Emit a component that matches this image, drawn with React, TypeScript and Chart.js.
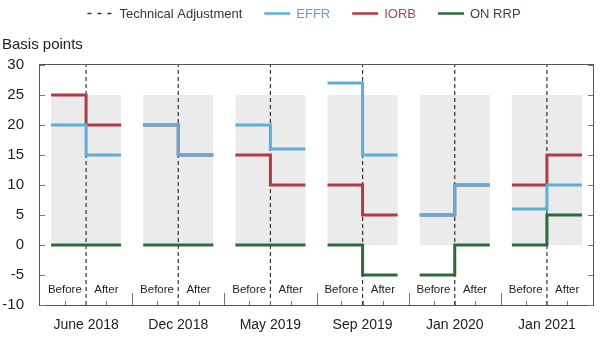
import React, { useEffect, useRef } from "react";
import { Chart, registerables } from "chart.js";

Chart.register(...registerables);

// ---------- data ----------
const categories = ["June 2018", "Dec 2018", "May 2019", "Sep 2019", "Jan 2020", "Jan 2021"];
const phaseLabels = ["Before", "After"];
const effrBefore = [20, 20, 20, 27, 5, 6];
const effrAfter = [15, 15, 16, 15, 10, 10];
const iorbBefore = [25, 20, 15, 10, 5, 10];
const iorbAfter = [20, 15, 10, 5, 10, 15];
const onrrpBefore = [0, 0, 0, 0, -5, 0];
const onrrpAfter = [0, 0, 0, -5, 0, 5];
const shadeRange = [0, 25];
const yTicks = [-10, -5, 0, 5, 10, 15, 20, 25, 30];
const legendLabels = ["Technical Adjustment", "EFFR", "IORB", "ON RRP"];

// ---------- style ----------
const HALF = 0.38;
const PHASE_POS = [0.27, 0.72];
const FONT = "'Liberation Sans', Arial, Helvetica, sans-serif";
const C = {
  effr: "#5eaedb",
  iorb: "#b23a47",
  onrrp: "#2e6a3e",
  adj: "#333333",
  shade: "#ebebeb",
  axis: "#555555",
  tick: "#777777",
  text: "#222222",
};
const legendLine = [C.adj, C.effr, C.iorb, C.onrrp];
const legendText = ["#333333", "#6a9fbd", "#a3485a", "#34473a"];
const legendDash = [[4, 6], [], [], []];

function stepSeries(before: number[], after: number[]) {
  const pts: { x: number; y: number | null }[] = [];
  before.forEach((b, i) => {
    const c = i + 0.5;
    pts.push(
      { x: c - HALF, y: b },
      { x: c, y: b },
      { x: c, y: after[i] },
      { x: c + HALF, y: after[i] },
      { x: i + 1, y: null }
    );
  });
  return pts;
}

function adjSeries() {
  const pts: { x: number; y: number | null }[] = [];
  categories.forEach((_, i) => {
    pts.push(
      { x: i + 0.5, y: yTicks[0] },
      { x: i + 0.5, y: yTicks[yTicks.length - 1] },
      { x: i + 1, y: null }
    );
  });
  return pts;
}

const decorations = {
  id: "decorations",
  afterDraw(chart: any) {
    const { ctx, chartArea, scales } = chart;
    const { left, right, top, bottom } = chartArea;
    const x = scales.x;
    const y = scales.y;
    ctx.save();
    // frame
    ctx.strokeStyle = C.axis;
    ctx.lineWidth = 1;
    ctx.strokeRect(left - 0.5, top - 0.5, right - left + 1, bottom - top + 1);
    // y tick marks (inside, both sides)
    ctx.strokeStyle = C.tick;
    ctx.beginPath();
    yTicks.forEach((v) => {
      const py = Math.round(y.getPixelForValue(v)) + 0.5;
      ctx.moveTo(left, py);
      ctx.lineTo(left + 5, py);
      ctx.moveTo(right - 5, py);
      ctx.lineTo(right, py);
    });
    // x tick marks
    categories.forEach((_, i) => {
      [PHASE_POS[0], 0.5, PHASE_POS[1]].forEach((p) => {
        const px = Math.round(x.getPixelForValue(i + p)) + 0.5;
        ctx.moveTo(px, bottom);
        ctx.lineTo(px, bottom - 4);
      });
      if (i > 0) {
        const px = Math.round(x.getPixelForValue(i)) + 0.5;
        ctx.moveTo(px, bottom);
        ctx.lineTo(px, bottom - 12);
      }
    });
    ctx.stroke();
    // Before / After labels
    ctx.fillStyle = C.text;
    ctx.font = `11.5px ${FONT}`;
    ctx.textAlign = "center";
    ctx.textBaseline = "middle";
    categories.forEach((_, i) => {
      phaseLabels.forEach((lbl, k) => {
        ctx.fillText(lbl, x.getPixelForValue(i + PHASE_POS[k]), bottom - 15);
      });
    });
    // legend
    const fs = 13;
    ctx.font = `${fs}px ${FONT}`;
    ctx.textAlign = "left";
    const boxW = 26;
    const gap = 6;
    const spacing = 22;
    const widths = legendLabels.map((t) => boxW + gap + ctx.measureText(t).width);
    const total = widths.reduce((a, b) => a + b, 0) + spacing * (widths.length - 1);
    let cx = 304 - total / 2;
    const ly = 13;
    legendLabels.forEach((t, k) => {
      ctx.save();
      ctx.strokeStyle = legendLine[k];
      ctx.lineWidth = k === 0 ? 1.5 : 2.5;
      ctx.setLineDash(legendDash[k]);
      ctx.beginPath();
      ctx.moveTo(cx, ly + 0.5);
      ctx.lineTo(cx + boxW, ly + 0.5);
      ctx.stroke();
      ctx.restore();
      ctx.fillStyle = legendText[k];
      ctx.fillText(t, cx + boxW + gap, ly + 1);
      cx += widths[k] + spacing;
    });
    ctx.restore();
  },
};

export default function App() {
  const ref = useRef<HTMLCanvasElement>(null);
  useEffect(() => {
    Chart.defaults.font.family = FONT;
    const lineCommon = {
      type: "line" as const,
      pointRadius: 0,
      borderWidth: 3,
      fill: false,
      spanGaps: false,
      tension: 0,
      borderJoinStyle: "miter" as const,
      borderCapStyle: "butt" as const,
    };
    const chart = new Chart(ref.current as HTMLCanvasElement, {
      type: "line",
      data: {
        datasets: [
          {
            ...lineCommon,
            label: legendLabels[1],
            data: stepSeries(effrBefore, effrAfter),
            borderColor: C.effr,
            order: 1,
          },
          {
            ...lineCommon,
            label: legendLabels[2],
            data: stepSeries(iorbBefore, iorbAfter),
            borderColor: C.iorb,
            order: 2,
          },
          {
            ...lineCommon,
            label: legendLabels[3],
            data: stepSeries(onrrpBefore, onrrpAfter),
            borderColor: C.onrrp,
            order: 3,
          },
          {
            ...lineCommon,
            label: legendLabels[0],
            data: adjSeries(),
            borderColor: C.adj,
            borderWidth: 1.2,
            borderDash: [4, 3],
            order: 4,
          },
          {
            type: "bar" as const,
            label: "shade",
            data: categories.map((_, i) => ({ x: i + 0.5, y: shadeRange })) as any,
            backgroundColor: C.shade,
            borderWidth: 0,
            categoryPercentage: 1,
            barPercentage: 2 * HALF,
            order: 10,
          } as any,
        ],
      },
      options: {
        animation: false,
        responsive: false,
        events: [],
        layout: { padding: { left: 2, right: 7, top: 0, bottom: 0 } },
        plugins: {
          legend: { display: false },
          tooltip: { enabled: false },
          title: {
            display: true,
            text: "Basis points",
            align: "start",
            color: C.text,
            font: { family: FONT, size: 15, weight: "normal" },
            padding: { top: 36, bottom: 11 },
          },
        },
        scales: {
          x: {
            type: "linear",
            min: 0,
            max: categories.length,
            offset: false,
            afterBuildTicks: (axis: any) => {
              axis.ticks = categories.map((_, i) => ({ value: i + 0.5 }));
            },
            afterFit: (s: any) => {
              s.height = 35;
            },
            ticks: {
              autoSkip: false,
              maxRotation: 0,
              callback: (_v: any, i: number) => categories[i],
              font: { family: FONT, size: 14 },
              color: C.text,
              padding: 12,
            },
            grid: { display: false, drawTicks: false },
            border: { display: false },
          },
          y: {
            type: "linear",
            min: yTicks[0],
            max: yTicks[yTicks.length - 1],
            afterBuildTicks: (axis: any) => {
              axis.ticks = yTicks.map((v) => ({ value: v }));
            },
            afterFit: (s: any) => {
              s.width = 38;
            },
            ticks: {
              font: { family: FONT, size: 15 },
              color: C.text,
              padding: 16,
            },
            grid: { display: false, drawTicks: false },
            border: { display: false },
          },
        },
      } as any,
      plugins: [decorations],
    });
    return () => chart.destroy();
  }, []);
  return (
    <div style={{ position: "fixed", left: 0, top: 0, width: 600, height: 340, background: "#fff" }}>
      <canvas ref={ref} width={600} height={340} style={{ display: "block" }} />
    </div>
  );
}
